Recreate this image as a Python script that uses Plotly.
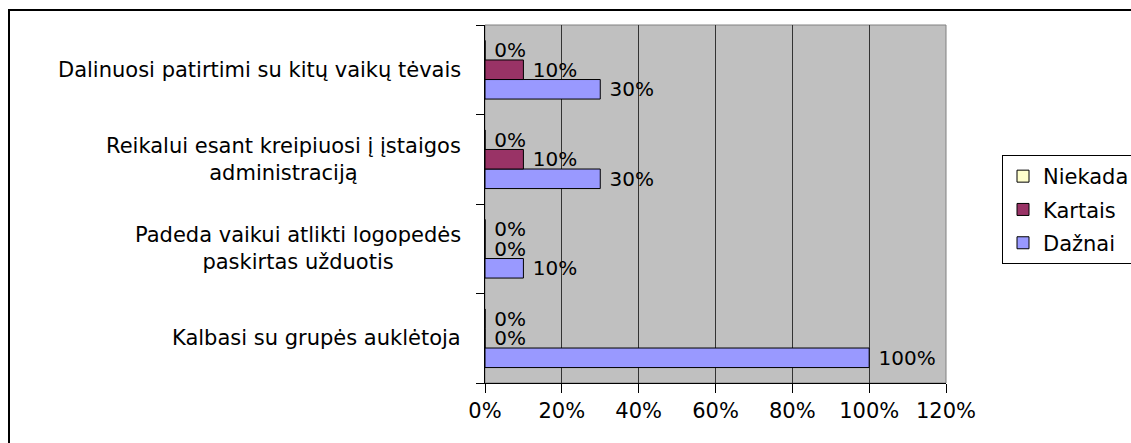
import plotly.graph_objects as go

categories = [
    "Dalinuosi patirtimi su kitų vaikų tėvais",
    "Reikalui esant kreipiuosi į įstaigos<br>administraciją",
    "Padeda vaikui atlikti logopedės<br>paskirtas užduotis",
    "Kalbasi su grupės auklėtoja",
]
series_names = ["Dažnai", "Kartais", "Niekada"]
dazniai = [30, 30, 10, 100]
kartais = [10, 10, 0, 0]
niekada = [0, 0, 0, 0]
colors = {"Dažnai": "#9999FF", "Kartais": "#993366", "Niekada": "#FFFFCC"}
legend_rank = {"Niekada": 1, "Kartais": 2, "Dažnai": 3}
x_ticks = [0, 20, 40, 60, 80, 100, 120]

FONT = "DejaVu Sans"
FS = 21

fig = go.Figure()
for name, vals in zip(series_names, [dazniai, kartais, niekada]):
    fig.add_trace(go.Bar(
        y=categories, x=vals, name=name, orientation="h", legendgroup=name,
        legendrank=legend_rank[name],
        marker=dict(color=colors[name], line=dict(color="black", width=1)),
        text=[f" {v}%" for v in vals], textposition="outside",
        textfont=dict(family=FONT, size=20, color="black"),
        constraintext="none", cliponaxis=False,
    ))

for c in categories:
    fig.add_annotation(
        x=-0.0477, xref="paper", y=c, yref="y", text=c, showarrow=False,
        xanchor="right", yanchor="middle", align="center",
        font=dict(family=FONT, size=FS, color="black"),
    )

W, H = 1131, 443
L, R, T, B = 485, 185, 25, 60
pw, ph = W - L - R, H - T - B

def px2x(px):
    return (px - L) / pw

def px2y(py):
    return (H - B - py) / ph

fig.add_shape(type="rect", xref="paper", yref="paper", x0=0, x1=1, y0=0, y1=1,
              line=dict(color="#808080", width=1), layer="below")
fig.add_shape(type="rect", xref="paper", yref="paper",
              x0=px2x(9), x1=px2x(1140), y0=px2y(450), y1=px2y(10),
              line=dict(color="black", width=2), fillcolor="rgba(0,0,0,0)")

fig.update_layout(
    width=W, height=H,
    margin=dict(l=L, r=R, t=T, b=B, pad=0, autoexpand=False),
    barmode="group", bargap=0.345, bargroupgap=0,
    plot_bgcolor="#C0C0C0", paper_bgcolor="white",
    font=dict(family=FONT, size=FS, color="black"),
    legend=dict(
        x=px2x(1002), y=px2y(155), xanchor="left", yanchor="top",
        traceorder="grouped", bordercolor="black", borderwidth=1,
        bgcolor="white", font=dict(family=FONT, size=FS, color="black"),
        itemwidth=30, tracegroupgap=3,
    ),
    xaxis=dict(
        range=[0, 120], tickvals=x_ticks, ticktext=[f"{t}%" for t in x_ticks],
        showgrid=True, gridcolor="#333333", gridwidth=1, zeroline=False,
        showline=True, linecolor="black", linewidth=1, automargin=False,
        ticks="outside", ticklen=9, tickcolor="black",
        tickfont=dict(family=FONT, size=FS, color="black"),
    ),
    yaxis=dict(
        categoryorder="array", categoryarray=categories[::-1],
        showticklabels=False, tickson="boundaries", ticks="outside",
        ticklen=8, tickcolor="black", showgrid=False, zeroline=False,
        showline=True, linecolor="black", linewidth=1, automargin=False,
    ),
    showlegend=True,
)

fig.write_html(
    "out.html",
    config={"displayModeBar": False},
    post_script="document.body.style.margin='0';document.body.style.overflow='hidden';",
)
